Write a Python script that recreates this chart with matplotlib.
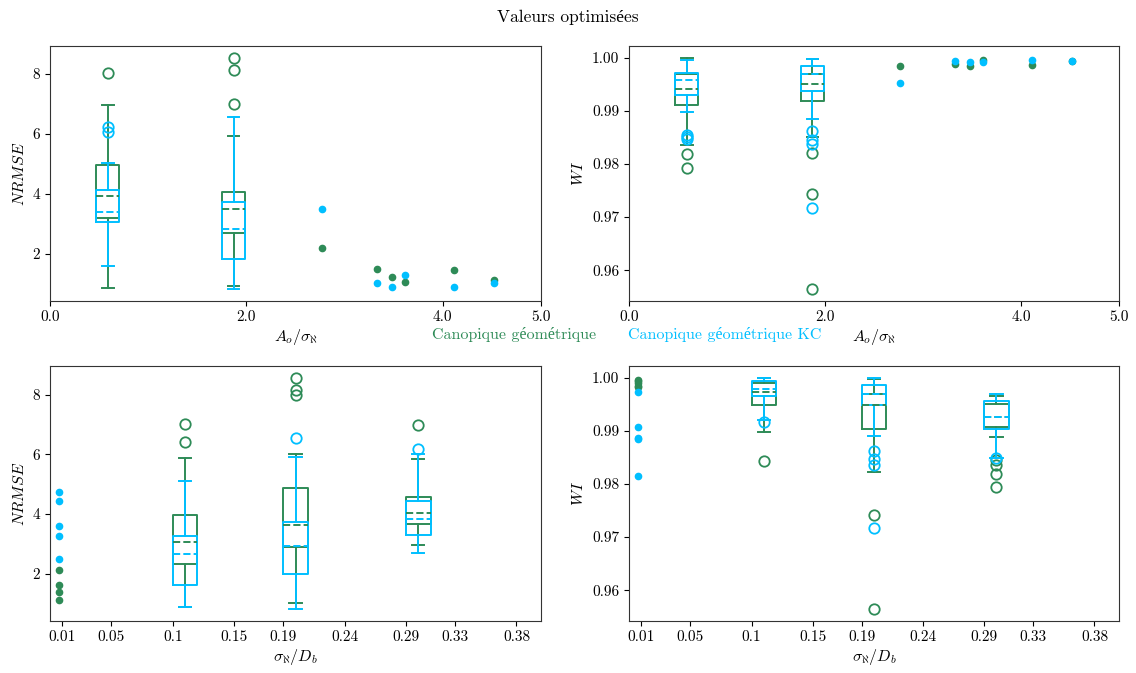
import matplotlib
matplotlib.use("Agg")
import matplotlib.pyplot as plt

plt.rcParams['font.family'] = ['cmr10', 'Liberation Serif', 'DejaVu Serif']
plt.rcParams['mathtext.fontset'] = 'cm'
plt.rcParams['axes.formatter.use_mathtext'] = True
plt.rcParams['axes.unicode_minus'] = False

GREEN = '#2E8B57'
CYAN = '#00BFFF'

title = "Valeurs optimisées"
series_names = ["Canopique géométrique", "Canopique géométrique KC"]

# ---------------- top row: x = A_o / sigma ----------------
top_box_pos = [0.59, 1.87]
top_xticks = [0.0, 2.0, 4.0, 5.0]
top_xticklabels = ['0.0', '2.0', '4.0', '5.0']

nrmse_geo_q1 = [3.21, 2.70]
nrmse_geo_med = [3.92, 3.51]
nrmse_geo_q3 = [4.97, 4.07]
nrmse_geo_lo = [0.87, 0.93]
nrmse_geo_hi = [6.96, 5.93]
nrmse_geo_fliers = [[8.02], [8.53, 8.13, 6.97]]

nrmse_kc_q1 = [3.07, 1.82]
nrmse_kc_med = [3.40, 2.82]
nrmse_kc_q3 = [4.12, 3.74]
nrmse_kc_lo = [1.60, 0.82]
nrmse_kc_hi = [5.04, 6.54]
nrmse_kc_fliers = [[6.23, 6.04], []]

wi_geo_q1 = [0.9911, 0.9919]
wi_geo_med = [0.9941, 0.9950]
wi_geo_q3 = [0.9969, 0.9969]
wi_geo_lo = [0.9836, 0.9851]
wi_geo_hi = [1.0000, 0.9998]
wi_geo_fliers = [[0.9818, 0.9793], [0.9821, 0.9743, 0.9564]]

wi_kc_q1 = [0.9929, 0.9938]
wi_kc_med = [0.9957, 0.9969]
wi_kc_q3 = [0.9971, 0.9984]
wi_kc_lo = [0.9897, 0.9884]
wi_kc_hi = [0.9996, 0.9998]
wi_kc_fliers = [[0.9854, 0.9850, 0.9847], [0.9862, 0.9845, 0.9838, 0.9717]]

top_pts_x = [2.77, 3.33, 3.48, 3.61, 4.11, 4.52]
top_pts_nrmse_geo = [2.20, 1.49, 1.22, 1.07, 1.48, 1.14]
top_pts_nrmse_kc = [3.48, 1.03, 0.89, 1.31, 0.91, 1.04]
top_pts_wi_geo = [0.99844, 0.99875, 0.99844, 0.99956, 0.99856, 0.99940]
top_pts_wi_kc = [0.99513, 0.99938, 0.99925, 0.99925, 0.99950, 0.99938]

# ---------------- bottom row: x = sigma / D_b ----------------
bot_box_pos = [0.11, 0.20, 0.30]
bot_xticks = [0.01, 0.05, 0.10, 0.15, 0.19, 0.24, 0.29, 0.33, 0.38]
bot_xticklabels = ['0.01', '0.05', '0.1', '0.15', '0.19', '0.24', '0.29', '0.33', '0.38']

bnrmse_geo_q1 = [2.33, 2.88, 3.65]
bnrmse_geo_med = [3.07, 3.63, 4.03]
bnrmse_geo_q3 = [3.97, 4.88, 4.56]
bnrmse_geo_lo = [0.87, 1.03, 2.96]
bnrmse_geo_hi = [5.89, 6.01, 5.85]
bnrmse_geo_fliers = [[7.01, 6.43], [8.58, 8.15, 8.00], [6.98]]

bnrmse_kc_q1 = [1.63, 1.99, 3.31]
bnrmse_kc_med = [2.66, 2.94, 3.83]
bnrmse_kc_q3 = [3.25, 3.72, 4.43]
bnrmse_kc_lo = [0.87, 0.80, 2.70]
bnrmse_kc_hi = [5.12, 5.92, 6.00]
bnrmse_kc_fliers = [[], [6.55], [6.17]]

bwi_geo_q1 = [0.9948, 0.9903, 0.9908]
bwi_geo_med = [0.9973, 0.9949, 0.9926]
bwi_geo_q3 = [0.9989, 0.9969, 0.9950]
bwi_geo_lo = [0.9898, 0.9822, 0.9888]
bwi_geo_hi = [1.0000, 0.9997, 0.9965]
bwi_geo_fliers = [[0.9843], [0.9742, 0.9564], [0.9845, 0.9835, 0.9818, 0.9794]]

bwi_kc_q1 = [0.9965, 0.9949, 0.9904]
bwi_kc_med = [0.9978, 0.9969, 0.9926]
bwi_kc_q3 = [0.9993, 0.9986, 0.9956]
bwi_kc_lo = [0.9920, 0.9891, 0.9849]
bwi_kc_hi = [1.0000, 0.9999, 0.9969]
bwi_kc_fliers = [[0.9916], [0.9862, 0.9846, 0.9835, 0.9717], [0.9849]]

bot_pts_x = 0.0076
bot_pts_nrmse_geo = [2.11, 1.63, 1.37, 1.11]
bot_pts_nrmse_kc = [4.73, 4.43, 3.61, 3.25, 2.49]
bot_pts_wi_geo = [0.9996, 0.9993, 0.9990, 0.9985, 0.9982]
bot_pts_wi_kc = [0.9973, 0.9907, 0.9887, 0.9885, 0.9815]


def make_stats(q1, med, q3, lo, hi, fliers):
    return [dict(q1=a, med=b, q3=c, whislo=d, whishi=e, fliers=f)
            for a, b, c, d, e, f in zip(q1, med, q3, lo, hi, fliers)]


def draw_boxes(ax, stats, pos, width, color):
    lw = 1.4
    ax.bxp(stats, positions=pos, widths=width, manage_ticks=False,
           boxprops=dict(color=color, linewidth=lw),
           whiskerprops=dict(color=color, linewidth=lw),
           capprops=dict(color=color, linewidth=lw),
           medianprops=dict(color=color, linewidth=lw, linestyle='--'),
           flierprops=dict(marker='o', markerfacecolor='none',
                           markeredgecolor=color, markersize=7.5,
                           markeredgewidth=1.3))


fig = plt.figure(figsize=(11.36, 6.73), dpi=100)
W, H = 1136.0, 673.0


def add_ax(l, t, r, b):
    return fig.add_axes([l / W, 1 - b / H, (r - l) / W, (b - t) / H])


ax_tl = add_ax(50, 46, 541, 301)
ax_tr = add_ax(629, 46, 1119, 301)
ax_bl = add_ax(50, 366, 541, 621)
ax_br = add_ax(629, 366, 1119, 621)

# top-left
draw_boxes(ax_tl, make_stats(nrmse_geo_q1, nrmse_geo_med, nrmse_geo_q3, nrmse_geo_lo,
                             nrmse_geo_hi, nrmse_geo_fliers), top_box_pos, 0.234, GREEN)
draw_boxes(ax_tl, make_stats(nrmse_kc_q1, nrmse_kc_med, nrmse_kc_q3, nrmse_kc_lo,
                             nrmse_kc_hi, nrmse_kc_fliers), top_box_pos, 0.234, CYAN)
ax_tl.plot(top_pts_x, top_pts_nrmse_geo, 'o', color=GREEN, markersize=4.5, linestyle='none')
ax_tl.plot(top_pts_x, top_pts_nrmse_kc, 'o', color=CYAN, markersize=4.5, linestyle='none')

# top-right
draw_boxes(ax_tr, make_stats(wi_geo_q1, wi_geo_med, wi_geo_q3, wi_geo_lo,
                             wi_geo_hi, wi_geo_fliers), top_box_pos, 0.234, GREEN)
draw_boxes(ax_tr, make_stats(wi_kc_q1, wi_kc_med, wi_kc_q3, wi_kc_lo,
                             wi_kc_hi, wi_kc_fliers), top_box_pos, 0.234, CYAN)
ax_tr.plot(top_pts_x, top_pts_wi_geo, 'o', color=GREEN, markersize=4.5, linestyle='none')
ax_tr.plot(top_pts_x, top_pts_wi_kc, 'o', color=CYAN, markersize=4.5, linestyle='none')

# bottom-left
draw_boxes(ax_bl, make_stats(bnrmse_geo_q1, bnrmse_geo_med, bnrmse_geo_q3, bnrmse_geo_lo,
                             bnrmse_geo_hi, bnrmse_geo_fliers), bot_box_pos, 0.02, GREEN)
draw_boxes(ax_bl, make_stats(bnrmse_kc_q1, bnrmse_kc_med, bnrmse_kc_q3, bnrmse_kc_lo,
                             bnrmse_kc_hi, bnrmse_kc_fliers), bot_box_pos, 0.02, CYAN)
ax_bl.plot([bot_pts_x] * len(bot_pts_nrmse_geo), bot_pts_nrmse_geo, 'o', color=GREEN,
           markersize=4.5, linestyle='none')
ax_bl.plot([bot_pts_x] * len(bot_pts_nrmse_kc), bot_pts_nrmse_kc, 'o', color=CYAN,
           markersize=4.5, linestyle='none')

# bottom-right
draw_boxes(ax_br, make_stats(bwi_geo_q1, bwi_geo_med, bwi_geo_q3, bwi_geo_lo,
                             bwi_geo_hi, bwi_geo_fliers), bot_box_pos, 0.02, GREEN)
draw_boxes(ax_br, make_stats(bwi_kc_q1, bwi_kc_med, bwi_kc_q3, bwi_kc_lo,
                             bwi_kc_hi, bwi_kc_fliers), bot_box_pos, 0.02, CYAN)
ax_br.plot([bot_pts_x] * len(bot_pts_wi_geo), bot_pts_wi_geo, 'o', color=GREEN,
           markersize=4.5, linestyle='none')
ax_br.plot([bot_pts_x] * len(bot_pts_wi_kc), bot_pts_wi_kc, 'o', color=CYAN,
           markersize=4.5, linestyle='none')

for ax in (ax_tl, ax_tr):
    ax.set_xlim(0, 5)
    ax.set_xticks(top_xticks)
    ax.set_xticklabels(top_xticklabels)
    ax.set_xlabel(r'$A_o/\sigma_\aleph$', fontsize=11.5, labelpad=2)
for ax in (ax_bl, ax_br):
    ax.set_xlim(0, 0.4)
    ax.set_xticks(bot_xticks)
    ax.set_xticklabels(bot_xticklabels)
    ax.set_xlabel(r'$\sigma_\aleph/D_b$', fontsize=11.5, labelpad=2)

for ax in (ax_tl, ax_bl):
    ax.set_yticks([2, 4, 6, 8])
    ax.set_yticklabels(['2', '4', '6', '8'])
    ax.set_ylabel(r'$NRMSE$', fontsize=11.5)
for ax in (ax_tr, ax_br):
    ax.set_yticks([0.96, 0.97, 0.98, 0.99, 1.00])
    ax.set_yticklabels(['0.96', '0.97', '0.98', '0.99', '1.00'])
    ax.set_ylabel(r'$WI$', fontsize=11.5)

for ax in (ax_tl, ax_tr, ax_bl, ax_br):
    ax.tick_params(labelsize=11)
    for s in ax.spines.values():
        s.set_color('#333333')

fig.text(0.5, 1 - 17 / H, title, ha='center', va='center', fontsize=12.5)
fig.text(432 / W, 1 - 335 / H, series_names[0], color=GREEN, ha='left', va='center', fontsize=11.5)
fig.text(628 / W, 1 - 335 / H, series_names[1], color=CYAN, ha='left', va='center', fontsize=11.5)

fig.savefig('out.png', dpi=100)
